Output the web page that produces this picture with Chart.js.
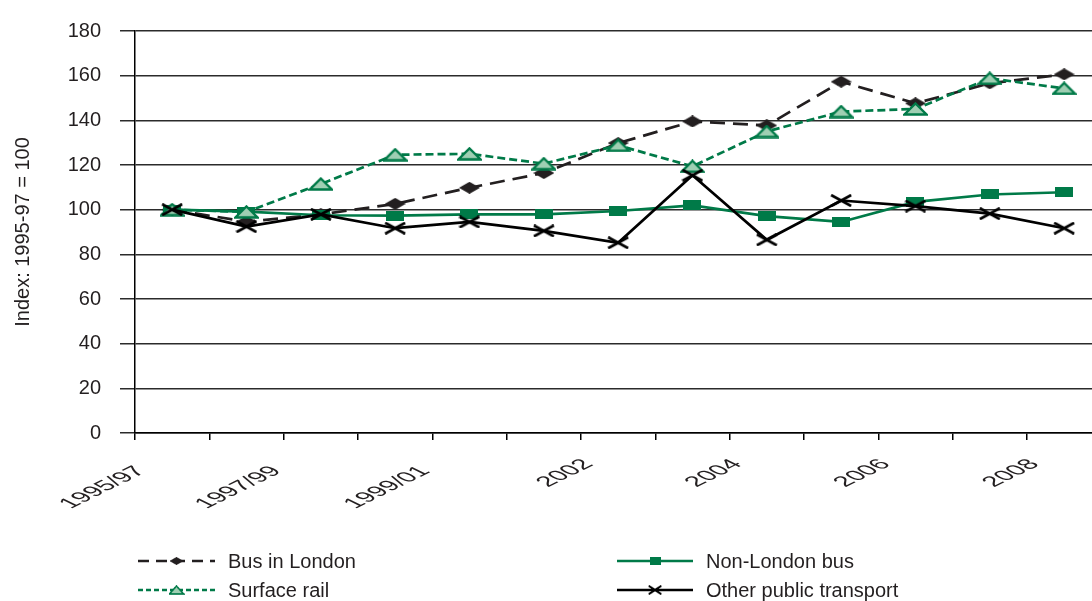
<!DOCTYPE html>
<html>
<head>
<meta charset="utf-8">
<script src="https://cdn.jsdelivr.net/npm/chart.js@4.4.0/dist/chart.umd.min.js"></script>
<style>
  html, body { margin: 0; padding: 0; background: #fff; overflow: hidden; }
  canvas { display: block; }
</style>
</head>
<body>
<canvas id="chart" width="1112" height="601"></canvas>
<script>
"use strict";

// --- data ---
const categories = ['1995/97', '1996/98', '1997/99', '1998/00', '1999/01', '2001', '2002',
                    '2003', '2004', '2005', '2006', '2007', '2008'];
const shownLabels = ['1995/97', '1997/99', '1999/01', '2002', '2004', '2006', '2008'];

const busLondon    = [100, 94.6, 97.9, 102.6, 109.8, 116.4, 129.8, 139.5, 137.7, 157.3, 147.6, 156.6, 160.6];
const nonLondonBus = [100, 99.1, 97.5, 97.3, 97.9, 97.9, 99.4, 101.9, 97.1, 94.5, 103.5, 106.8, 107.8];
const surfaceRail  = [100, 99.0, 111.5, 124.6, 125.0, 120.6, 128.8, 119.4, 135.0, 143.9, 145.1, 158.8, 154.3];
const otherPublic  = [100, 92.4, 97.9, 91.7, 94.5, 90.5, 85.2, 115.4, 86.5, 104.1, 101.6, 98.2, 91.7];

const seriesNames = ['Bus in London', 'Non-London bus', 'Surface rail', 'Other public transport'];

const BLACK = '#231f20';
const GREEN = '#007a48';
const LIGHT_GREEN = '#9fcfb3';
const FONT = '"Liberation Sans", Arial, sans-serif';
const STRETCH = 2.05; // the source picture is stretched sideways (markers, x labels)

// markers in the original are wide and flat, so build them as small canvases
function makeMarker(w, h, draw) {
    const c = document.createElement('canvas');
    c.width = w; c.height = h;
    draw(c.getContext('2d'), w, h);
    return c;
}
const diamond = makeMarker(21, 12, (ctx, w, h) => {
    ctx.fillStyle = BLACK;
    ctx.beginPath();
    ctx.moveTo(w / 2, 0); ctx.lineTo(w, h / 2); ctx.lineTo(w / 2, h); ctx.lineTo(0, h / 2);
    ctx.closePath(); ctx.fill();
});
const square = makeMarker(18, 10, (ctx, w, h) => {
    ctx.fillStyle = GREEN;
    ctx.fillRect(0, 0, w, h);
});
const triangle = makeMarker(25, 14, (ctx, w, h) => {
    ctx.fillStyle = LIGHT_GREEN;
    ctx.strokeStyle = GREEN;
    ctx.lineWidth = 2.4;
    ctx.beginPath();
    ctx.moveTo(w / 2, 1.5); ctx.lineTo(w - 1.5, h - 1.5); ctx.lineTo(1.5, h - 1.5);
    ctx.closePath(); ctx.fill(); ctx.stroke();
});
const cross = makeMarker(22, 13, (ctx, w, h) => {
    ctx.strokeStyle = '#000';
    ctx.lineWidth = 2.7;
    ctx.beginPath();
    ctx.moveTo(1, 1); ctx.lineTo(w - 1, h - 1);
    ctx.moveTo(w - 1, 1); ctx.lineTo(1, h - 1);
    ctx.stroke();
});

const legendItems = [
    { name: seriesNames[0], color: BLACK, dash: [11, 7], marker: diamond, mw: 14, mh: 8,  x: 138, y: 561, len: 77 },
    { name: seriesNames[1], color: GREEN, dash: [],      marker: square,  mw: 11, mh: 8,  x: 617, y: 561, len: 76 },
    { name: seriesNames[2], color: GREEN, dash: [5, 3],  marker: triangle, mw: 16, mh: 10, x: 138, y: 590, len: 77 },
    { name: seriesNames[3], color: '#000', dash: [],     marker: cross,   mw: 14, mh: 10, x: 617, y: 590, len: 76 }
];

const legendPlugin = {
    id: 'bottomLegend',
    afterDraw(chart) {
        const ctx = chart.ctx;
        legendItems.forEach(it => {
            ctx.save();
            ctx.strokeStyle = it.color;
            ctx.lineWidth = 2.5;
            ctx.setLineDash(it.dash);
            ctx.beginPath();
            ctx.moveTo(it.x, it.y);
            ctx.lineTo(it.x + it.len, it.y);
            ctx.stroke();
            ctx.setLineDash([]);
            const cx = it.x + it.len / 2;
            ctx.drawImage(it.marker, cx - it.mw / 2, it.y - it.mh / 2, it.mw, it.mh);
            ctx.fillStyle = BLACK;
            ctx.font = '20px ' + FONT;
            ctx.textBaseline = 'middle';
            ctx.textAlign = 'left';
            ctx.fillText(it.name, it.x + it.len + 13, it.y + 1);
            ctx.restore();
        });
    }
};

// x labels: rotated 45deg and then stretched sideways like the source image
const xLabelPlugin = {
    id: 'stretchedXLabels',
    afterDraw(chart) {
        const ctx = chart.ctx;
        const xs = chart.scales.x;
        const half = (xs.getPixelForValue(1) - xs.getPixelForValue(0)) / 2;
        ctx.save();
        ctx.font = '14.5px ' + FONT;
        ctx.fillStyle = BLACK;
        ctx.textAlign = 'right';
        ctx.textBaseline = 'middle';
        categories.forEach((cat, i) => {
            if (!shownLabels.includes(cat)) return;
            const tick = xs.getPixelForValue(i) - half;
            const w = ctx.measureText(cat).width;
            const nudge = i === 0 ? 13 : 0; // first label sits a bit further right in the source
            ctx.save();
            ctx.translate(tick + 31 + nudge, xs.top + 17.5);
            ctx.scale(STRETCH, 1);
            ctx.rotate(-Math.PI / 4);
            ctx.fillText(cat, -w / 2, 0);
            ctx.restore();
        });
        ctx.restore();
    }
};

function line(label, data, color, dash, marker, order) {
    return {
        label, data, order,
        borderColor: color,
        backgroundColor: color,
        borderWidth: 2.7,
        borderDash: dash,
        tension: 0,
        pointStyle: marker,
        pointRadius: 8,
        pointHoverRadius: 8
    };
}

new Chart(document.getElementById('chart'), {
    type: 'line',
    data: {
        labels: categories,
        datasets: [
            line(seriesNames[0], busLondon, BLACK, [15, 8], diamond, 3),
            line(seriesNames[1], nonLondonBus, GREEN, [], square, 2),
            line(seriesNames[2], surfaceRail, GREEN, [8, 4], triangle, 1),
            line(seriesNames[3], otherPublic, '#000', [], cross, 0)
        ]
    },
    options: {
        responsive: false,
        animation: false,
        layout: { padding: { left: 0, right: 2, top: 29, bottom: 0 } },
        plugins: {
            legend: { display: false },
            tooltip: { enabled: false }
        },
        scales: {
            x: {
                offset: true,
                afterFit: (scale) => { scale.height = 168; scale.paddingLeft = 0; scale.paddingRight = 0; },
                grid: { display: true, offset: true, drawOnChartArea: false, tickLength: 7, color: '#000', lineWidth: 1.5 },
                border: { color: '#000', width: 1.5 },
                ticks: { display: false, autoSkip: false }
            },
            y: {
                min: 0,
                max: 180,
                afterFit: (scale) => { scale.width = 135; },
                grid: { color: '#2b2b2b', lineWidth: 1.5, tickLength: 15 },
                border: { color: '#000', width: 1.5 },
                ticks: {
                    stepSize: 20,
                    padding: 19,
                    color: BLACK,
                    font: { family: FONT, size: 20 }
                },
                title: {
                    display: true,
                    text: 'Index: 1995-97 = 100',
                    color: BLACK,
                    font: { family: FONT, size: 20 },
                    padding: { top: 11, bottom: 0 }
                }
            }
        }
    },
    plugins: [legendPlugin, xLabelPlugin]
});
</script>
</body>
</html>
